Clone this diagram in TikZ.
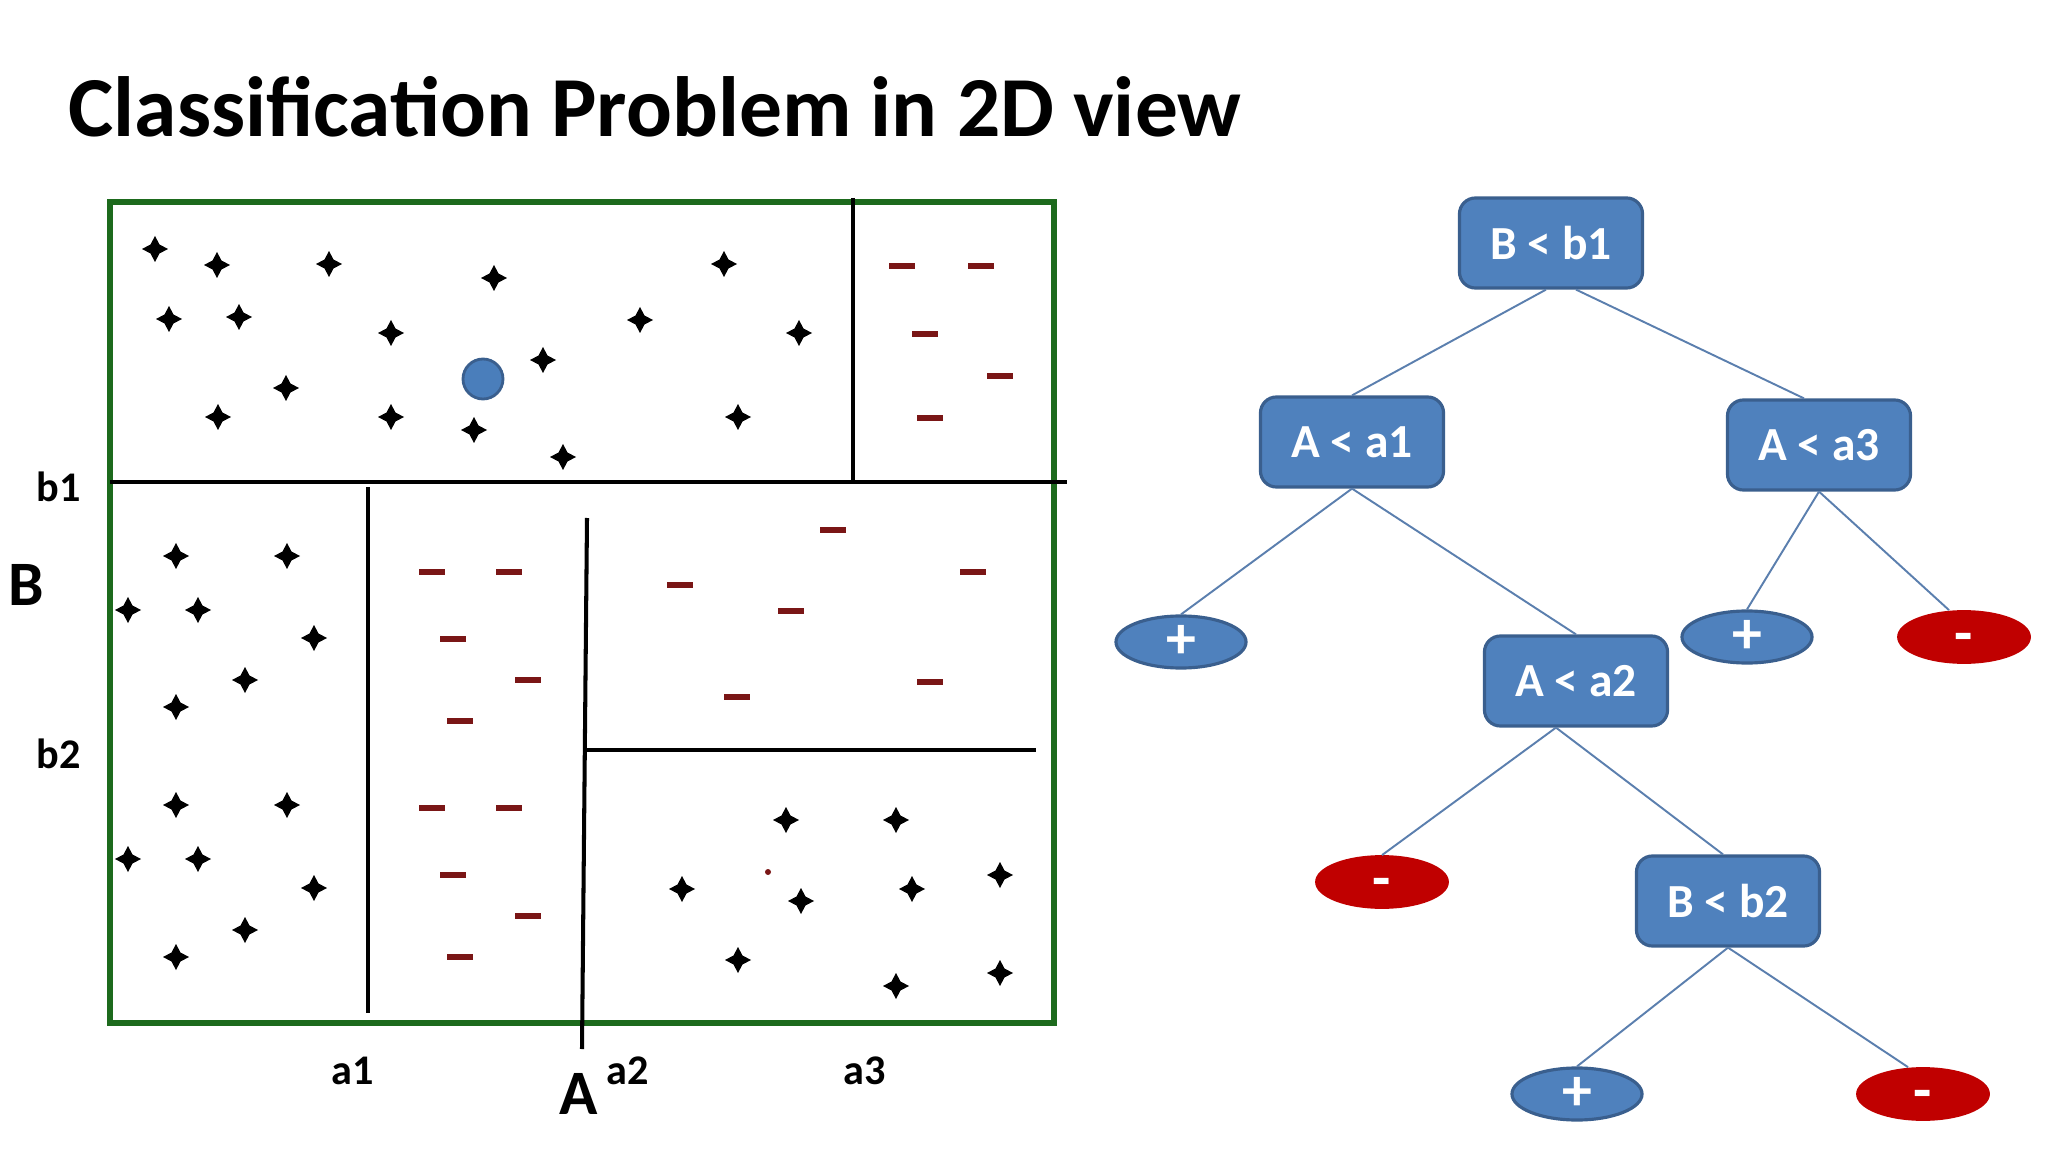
\documentclass[tikz,border=0pt]{standalone}
\usepackage{fontspec}
\setmainfont{Carlito}
\usetikzlibrary{shapes.geometric}
\usetikzlibrary{positioning}

\definecolor{nodeblue}{HTML}{4F81BD}
\definecolor{nodeedge}{HTML}{3A5F8E}
\definecolor{leafred}{HTML}{C00000}
\definecolor{boxgreen}{HTML}{1D6A1D}
\definecolor{minusred}{HTML}{7A1616}
\definecolor{linkblue}{HTML}{5B7FAE}
\definecolor{dotblue}{HTML}{4A7EBB}

\newcommand{\pmark}[2]{\fill[black] (#1,#2) +(0,-13) -- +(4.5,-4.5) -- +(13,0) -- +(4.5,4.5) -- +(0,13) -- +(-4.5,4.5) -- +(-13,0) -- +(-4.5,-4.5) -- cycle;}
\newcommand{\mmark}[2]{\draw[minusred,line width=1.5pt] (#1,#2) +(-13,0) -- +(13,0);}

\begin{document}
\begin{tikzpicture}[x=0.01cm,y=-0.01cm,
  testbox/.style={rectangle,rounded corners=1.6mm,fill=nodeblue,draw=nodeedge,line width=0.9pt,minimum width=18.3mm,minimum height=9mm,text=white,font=\fontsize{13.5}{15}\selectfont\bfseries},
  posleaf/.style={ellipse,fill=nodeblue,draw=nodeedge,line width=0.9pt,minimum width=13mm,minimum height=5.2mm,inner sep=0pt,text=white,font=\fontsize{17}{17}\selectfont\bfseries},
  negleaf/.style={ellipse,fill=leafred,draw=leafred,line width=0.5pt,minimum width=13.2mm,minimum height=5.2mm,inner sep=0pt,text height=9.4pt,text depth=0pt,text=white,font=\fontsize{17}{17}\selectfont\bfseries},
  link/.style={linkblue,line width=0.55pt},
  split/.style={black,line width=1.15pt},
  axlabel/.style={font=\fontsize{12}{14}\selectfont\bfseries},
  axname/.style={font=\fontsize{18}{20}\selectfont\bfseries}]
\useasboundingbox (0,0) rectangle (2048,1152);

\node[anchor=base west,inner sep=0pt,font=\fontsize{24.3}{30}\selectfont\bfseries] (title) at (68,137) {Classification Problem in 2D view};

% feature space
\draw[boxgreen,line width=1.9pt] (110,202) rectangle (1054,1023);
\draw[split] (110,482) -- (1067,482);
\draw[split] (853,198) -- (853,482);
\draw[split] (368,487) -- (368,1013);
\draw[split] (587,518) -- (582,1049);
\draw[split] (586,750) -- (1036,750);

\node[axlabel] (lb1) at (59,487) {b1};
\node[axname] (lB) at (26,585) {B};
\node[axlabel] (lb2) at (59,754) {b2};
\node[axlabel] (la1) at (353,1071) {a1};
\node[axname] (lA) at (579,1094) {A};
\node[axlabel] (la2) at (628,1071) {a2};
\node[axlabel] (la3) at (865,1071) {a3};

% top left region
\pmark{155}{249}
\pmark{217}{265}
\pmark{329}{264}
\pmark{494}{278}
\pmark{724}{264}
\pmark{169}{319}
\pmark{239}{317}
\pmark{391}{333}
\pmark{640}{320}
\pmark{799}{333}
\pmark{543}{360}
\pmark{286}{388}
\pmark{218}{417}
\pmark{391}{417}
\pmark{474}{430}
\pmark{738}{417}
\pmark{563}{457}
\draw[fill=dotblue,draw=nodeedge,line width=0.8pt] (483,379) circle (20);

% top right region
\mmark{902}{266}
\mmark{981}{266}
\mmark{925}{334}
\mmark{1000}{376}
\mmark{930}{418}

% left strip
\pmark{176}{556}
\pmark{287}{556}
\pmark{128}{610}
\pmark{198}{610}
\pmark{314}{638}
\pmark{245}{680}
\pmark{176}{707}
\pmark{176}{805}
\pmark{287}{805}
\pmark{128}{859}
\pmark{198}{859}
\pmark{314}{888}
\pmark{245}{930}
\pmark{176}{957}

% middle strip
\mmark{432}{572}
\mmark{509}{572}
\mmark{453}{639}
\mmark{528}{680}
\mmark{460}{721}
\mmark{432}{808}
\mmark{509}{808}
\mmark{453}{875}
\mmark{528}{916}
\mmark{460}{957}

% right, upper part
\mmark{833}{530}
\mmark{680}{585}
\mmark{973}{572}
\mmark{791}{611}
\mmark{737}{697}
\mmark{930}{682}

% right, lower part
\pmark{786}{820}
\pmark{896}{820}
\pmark{682}{889}
\pmark{801}{901}
\pmark{912}{889}
\pmark{1000}{875}
\pmark{738}{960}
\pmark{896}{986}
\pmark{1000}{973}
\fill[minusred] (768,872) circle (3);

% decision tree
\node[testbox] (root) at (1551,243) {B < b1};
\node[testbox] (na1) at (1352,442) {A < a1};
\node[testbox] (na3) at (1819,445) {A < a3};
\node[testbox] (na2) at (1576,681) {A < a2};
\node[testbox] (nb2) at (1728,901) {B < b2};
\node[posleaf] (pa1) at (1181,642) {+};
\node[posleaf] (pa3) at (1747,637) {+};
\node[negleaf] (ma3) at (1964,637) {-};
\node[negleaf] (ma2) at (1382,882) {-};
\node[posleaf] (pb2) at (1577,1094) {+};
\node[negleaf] (mb2) at (1923,1094) {-};

\draw[link] ([xshift=-0.5mm]root.south) -- (na1.north);
\draw[link] ([xshift=2.5mm]root.south) -- ([xshift=-1.5mm]na3.north);
\draw[link] (na1.south) -- (pa1.north);
\draw[link] (na1.south) -- (na2.north);
\draw[link] (na3.south) -- (pa3.north);
\draw[link] (na3.south) -- ([xshift=-1.5mm]ma3.north);
\draw[link] ([xshift=-2mm]na2.south) -- (ma2.north);
\draw[link] ([xshift=-2mm]na2.south) -- ([xshift=-0.5mm]nb2.north);
\draw[link] (nb2.south) -- (pb2.north);
\draw[link] (nb2.south) -- ([xshift=-1.5mm]mb2.north);

\end{tikzpicture}
\end{document}
